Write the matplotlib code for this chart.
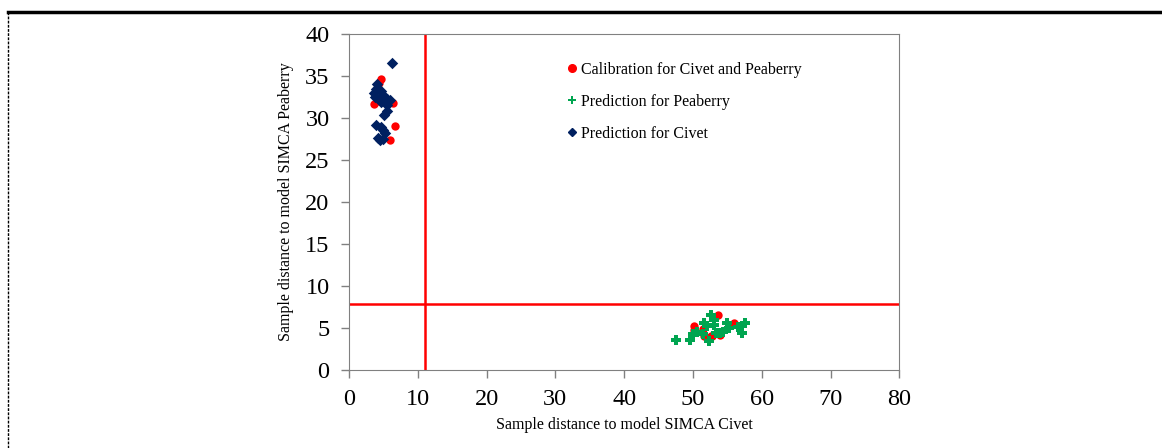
import matplotlib.pyplot as plt
from matplotlib.lines import Line2D

plt.rcParams['font.family'] = ['Liberation Serif', 'DejaVu Serif']

# calibration samples (red circles)
cal_x = [4.7, 4.4, 3.6, 6.4, 6.7, 5.9, 4.3,
         53.6, 50.1, 50.1, 51.5, 51.6, 52.6, 55.9, 52.8, 54.0]
cal_y = [34.7, 34.2, 31.7, 31.8, 29.1, 27.4, 32.0,
         6.6, 5.2, 4.8, 4.9, 4.0, 4.05, 5.6, 4.0, 4.2]

# prediction for peaberry (green pluses)
pea_x = [47.6, 49.6, 50.0, 52.6, 53.1, 51.6, 53.1, 52.3, 54.0, 55.0, 55.3,
         56.5, 57.5, 57.1, 50.6, 51.4, 53.3, 54.3, 52.0]
pea_y = [3.6, 3.6, 4.25, 6.5, 5.95, 5.55, 5.4, 3.4, 4.4, 5.55, 5.0,
         5.15, 5.6, 4.4, 4.55, 4.3, 4.4, 4.55, 5.2]

# prediction for civet (navy diamonds)
civ_x = [6.3, 4.1, 4.0, 3.7, 4.6, 5.0, 3.8, 5.5, 6.0, 4.6, 5.5, 5.5, 5.1,
         4.0, 4.6, 5.0, 5.3, 4.5, 4.9, 4.2]
civ_y = [36.6, 34.1, 33.5, 33.0, 33.2, 32.8, 32.5, 32.3, 32.1, 31.9, 31.5,
         30.8, 30.4, 29.2, 28.9, 28.6, 28.2, 27.4, 27.5, 27.6]

crit_x = 11.0
crit_y = 7.8

fig = plt.figure(figsize=(11.62, 4.48), dpi=100)
ax = fig.add_axes([0.3003, 0.1741, 0.4737, 0.7499])

ax.scatter(cal_x, cal_y, marker='o', s=36, c='#ff0000', zorder=3, linewidths=0)
ax.scatter(pea_x, pea_y, marker='P', s=44, c='#00a550', zorder=3, linewidths=0)
ax.scatter(civ_x, civ_y, marker='D', s=34, c='#002060', zorder=4, linewidths=0)

ax.axvline(crit_x, color='#ff0000', lw=1.8, zorder=2)
ax.axhline(crit_y, color='#ff0000', lw=1.8, zorder=2)

ax.set_xlim(0, 80)
ax.set_ylim(0, 40)
ax.set_xticks(range(0, 81, 10))
ax.set_yticks(range(0, 41, 5))
ax.tick_params(direction='out', length=6, width=1, color='#808080', labelsize=17.5)
ax.tick_params(axis='x', pad=8)
ax.tick_params(axis='y', pad=8)
for s in ax.spines.values():
    s.set_color('#808080')
ax.set_xlabel('Sample distance to model SIMCA Civet', fontsize=11.5, labelpad=5)
ax.set_ylabel('Sample distance to model SIMCA Peaberry', fontsize=11.5, labelpad=8)

handles = [
    Line2D([], [], ls='', marker='o', ms=5.5, color='#ff0000', label='Calibration for Civet and Peaberry'),
    Line2D([], [], ls='', marker='P', ms=6, color='#00a550', mew=0, label='Prediction for Peaberry'),
    Line2D([], [], ls='', marker='D', ms=4.5, color='#002060', label='Prediction for Civet'),
]
ax.legend(handles=handles, loc='upper left', bbox_to_anchor=(0.37, 0.96), frameon=False,
          fontsize=11.5, handlelength=0.6, handletextpad=0.3, labelspacing=1.0)

# page border (solid top, dashed left)
fig.add_artist(Line2D([0.007, 1.0], [0.973, 0.973], color='black', lw=2.5, transform=fig.transFigure))
fig.add_artist(Line2D([0.007, 0.007], [0.0, 0.973], color='black', lw=1, ls=(0, (2, 1)),
                      transform=fig.transFigure))

fig.savefig('out.png', dpi=100)
